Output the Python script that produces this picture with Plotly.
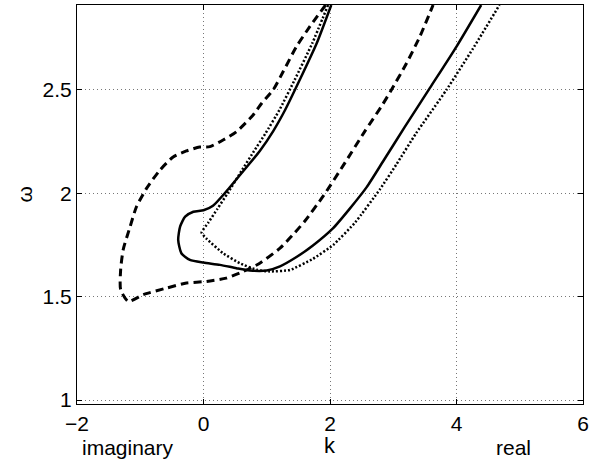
import plotly.graph_objects as go

# ---- data ----
solid_k = [2.02, 1.79, 1.52, 1.29, 1.10, 0.89, 0.63, 0.365, 0.15, 0.0, -0.16, -0.29, -0.37, -0.40,
           -0.35, -0.215, 0.0, 0.26, 0.52, 0.73, 1.0, 1.21, 1.47, 1.73, 2.05, 2.31, 2.58, 2.85,
           3.18, 3.58, 4.0, 4.39]
solid_w = [2.911, 2.726, 2.548, 2.403, 2.30, 2.205, 2.108, 2.011, 1.94, 1.918, 1.911, 1.887, 1.839, 1.775,
           1.71, 1.678, 1.665, 1.654, 1.638, 1.627, 1.627, 1.647, 1.692, 1.748, 1.832, 1.925, 2.03, 2.16,
           2.32, 2.51, 2.71, 2.911]

dashed_k = [1.93, 1.68, 1.47, 1.26, 1.10, 0.92, 0.785, 0.52, 0.31, 0.10, -0.06, -0.27, -0.48, -0.69,
            -0.90, -1.06, -1.16, -1.27, -1.31, -1.31, -1.19, -0.95, -0.58, -0.27, 0.05, 0.36, 0.63,
            0.89, 1.21, 1.40, 1.60, 1.90, 2.21, 2.55, 2.81, 2.97, 3.21, 3.42, 3.63]
dashed_w = [2.911, 2.806, 2.71, 2.589, 2.50, 2.436, 2.379, 2.298, 2.258, 2.226, 2.224, 2.205, 2.176, 2.112,
            2.024, 1.935, 1.839, 1.727, 1.63, 1.534, 1.477, 1.51, 1.542, 1.566, 1.574, 1.59, 1.622,
            1.662, 1.735, 1.795, 1.865, 1.99, 2.135, 2.30, 2.419, 2.5, 2.629, 2.758, 2.911]

dotted_k = [1.97, 1.72, 1.44, 1.20, 0.98, 0.80, 0.60, 0.38, 0.22, 0.08, -0.03, 0.05, 0.31, 0.575,
            0.84, 1.05, 1.365, 1.73, 2.05, 2.40, 2.79, 3.05, 3.36, 3.84, 4.26, 4.68]
dotted_w = [2.911, 2.726, 2.548, 2.403, 2.29, 2.205, 2.108, 2.0, 1.925, 1.86, 1.81, 1.78, 1.71, 1.662,
            1.63, 1.622, 1.629, 1.683, 1.75, 1.86, 2.02, 2.14, 2.29, 2.5, 2.70, 2.911]

x_ticks = [-2, 0, 2, 4, 6]
y_ticks = [1, 1.5, 2, 2.5]

FONT = "Liberation Sans, Arial, Helvetica, sans-serif"

fig = go.Figure()
fig.add_trace(go.Scatter(x=solid_k, y=solid_w, mode="lines",
                         line=dict(color="black", width=2.5, shape="spline", smoothing=0.6)))
fig.add_trace(go.Scatter(x=dashed_k, y=dashed_w, mode="lines",
                         line=dict(color="black", width=3, dash="8px,5px", shape="spline", smoothing=0.6)))
fig.add_trace(go.Scatter(x=dotted_k, y=dotted_w, mode="lines",
                         line=dict(color="black", width=2.5, dash="2px,2px", shape="spline", smoothing=0.4)))

axis_common = dict(
    showline=True, linecolor="black", linewidth=1, mirror="ticks",
    ticks="inside", ticklen=5, tickcolor="black", tickwidth=1,
    showgrid=True, gridcolor="#777", gridwidth=1, griddash="1px,3px",
    zeroline=False, tickfont=dict(family=FONT, size=21, color="black"),
)

fig.update_xaxes(range=[-2, 6], tickvals=x_ticks, ticklabelstandoff=1, **axis_common)
fig.update_yaxes(range=[0.981, 2.911], tickvals=y_ticks, ticklabelstandoff=0, **axis_common)

fig.add_annotation(text="k", x=2, xref="x", y=-0.105, yref="paper", showarrow=False,
                   xanchor="center", yanchor="middle", font=dict(family=FONT, size=22, color="black"))
fig.add_annotation(text="imaginary", x=-1.19, xref="x", y=-0.11, yref="paper", showarrow=False,
                   xanchor="center", yanchor="middle", font=dict(family=FONT, size=21, color="black"))
fig.add_annotation(text="real", x=4.9, xref="x", y=-0.11, yref="paper", showarrow=False,
                   xanchor="center", yanchor="middle", font=dict(family=FONT, size=21, color="black"))
fig.add_annotation(text="ω", x=-0.103, xref="paper", y=0.525, yref="paper", showarrow=False,
                   textangle=-90, xanchor="center", yanchor="middle",
                   font=dict(family=FONT, size=21, color="black"))

fig.update_layout(
    width=603, height=464,
    margin=dict(l=77, r=20, t=5, b=60),
    paper_bgcolor="white", plot_bgcolor="white",
    showlegend=False,
)

fig.write_html("out.html")
